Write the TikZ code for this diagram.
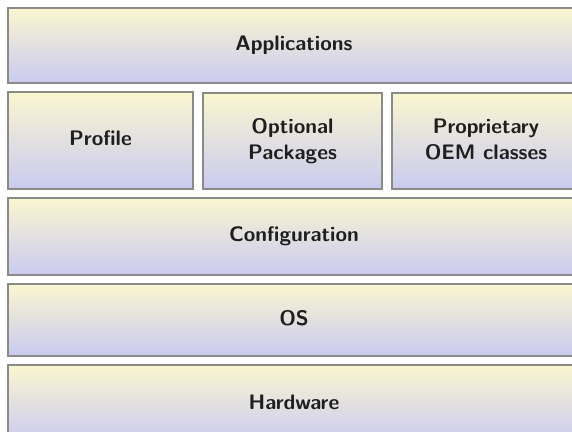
\documentclass[tikz,border=0pt]{standalone}
\usetikzlibrary{shadings}
\definecolor{topc}{HTML}{FAF6D0}
\definecolor{botc}{HTML}{CACAF0}
\definecolor{edge}{HTML}{8A8A88}
\newcommand\lyrtext[1]{\raisebox{-2pt}{\begin{tabular}{@{}c@{}}#1\end{tabular}}}
\begin{document}
\begin{tikzpicture}[x=1pt,y=1pt,
  layer/.style={rectangle, draw=edge, line width=1.3pt, top color=topc, bottom color=botc,
    inner sep=0pt, font=\sffamily\bfseries\fontsize{21}{26}\selectfont, text=black!88}]
\useasboundingbox (0,0) rectangle (572,431);
\clip (0,0) rectangle (572,431);
\fill[white] (0,0) rectangle (572,431);
\node[layer, minimum width=572, minimum height=75] (apps) at (294,385.5) {\lyrtext{Applications}};
\node[layer, minimum width=185, minimum height=97] (profile) at (100.5,290.5) {\lyrtext{Profile}};
\node[layer, minimum width=179, minimum height=96] (optional) at (292.5,290) {\lyrtext{Optional\\Packages}};
\node[layer, minimum width=188, minimum height=96] (oem) at (486,290) {\lyrtext{Proprietary\\OEM classes}};
\node[layer, minimum width=572, minimum height=77] (config) at (294,194.5) {\lyrtext{Configuration}};
\node[layer, minimum width=572, minimum height=72] (os) at (294,111) {\lyrtext{OS}};
\node[layer, minimum width=572, minimum height=78] (hw) at (294,27) {\lyrtext{Hardware}};
\end{tikzpicture}
\end{document}
